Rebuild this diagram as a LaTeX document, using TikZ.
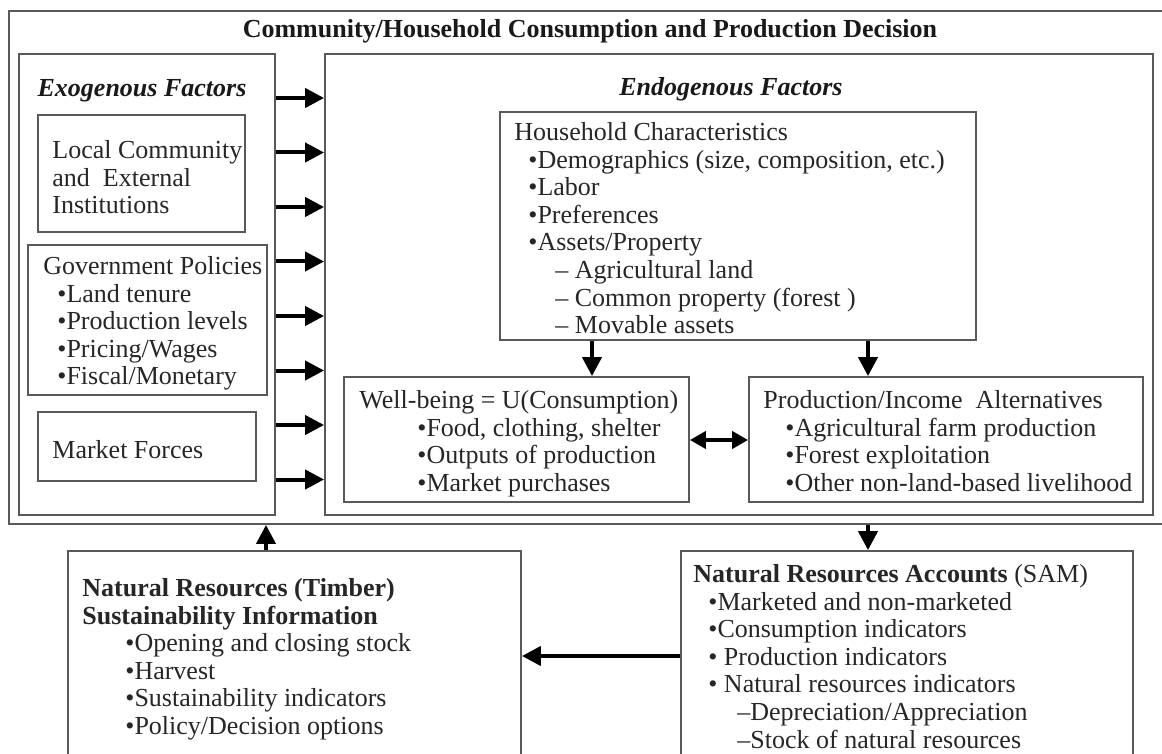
\documentclass[tikz,border=0pt]{standalone}
\usepackage{fontspec}
\setmainfont{Liberation Serif}
\usetikzlibrary{arrows.meta}

\begin{document}
\begin{tikzpicture}[x=0.5pt, y=-0.5pt,
   box/.style={draw=black!65, line width=0.9pt, inner sep=0pt},
   txt/.style={inner sep=0pt, anchor=north west, align=left, text=black!85,
               font=\fontsize{13}{13.8}\selectfont},
   head/.style={inner sep=0pt, text=black!90, font=\fontsize{13}{13.8}\selectfont\bfseries},
   arr/.style={-{Triangle[length=9.5pt, width=9.5pt]}, line width=2pt},
   ]

\useasboundingbox (0,0) rectangle (1162,754);

% frames
\node[box, minimum width=582pt, minimum height=256.5pt] (outer) at (591,267.5) {};
\node[box, minimum width=128pt, minimum height=230.5pt] (exo) at (147,284.5) {};
\node[box, minimum width=414pt, minimum height=230.5pt] (endo) at (739,284.5) {};

\node[head] (title) at (590,31) {Community/Household Consumption and Production Decision};
\node[head, font=\fontsize{13}{13.8}\selectfont\bfseries\itshape] (exohead) at (142,91) {Exogenous Factors};
\node[head, font=\fontsize{13}{13.8}\selectfont\bfseries\itshape] (endohead) at (731,89) {Endogenous Factors};

% exogenous side
\node[box, minimum width=103.5pt, minimum height=58.5pt] (local) at (141.5,173.5) {};
\node[txt] (local-t) at (52,140) {Local Community\\and \ External\\Institutions};

\node[box, minimum width=119.5pt, minimum height=75pt] (gov) at (147.5,320) {};
\node[txt] (gov-t) at (43,256) {Government Policies\\
   \hspace*{7pt}•Land tenure\\
   \hspace*{7pt}•Production levels\\
   \hspace*{7pt}•Pricing/Wages\\
   \hspace*{7pt}•Fiscal/Monetary};

\node[box, minimum width=109pt, minimum height=34.5pt] (market) at (147,446.5) {};
\node[txt, anchor=west] (market-t) at (52,450) {Market Forces};

% endogenous side
\node[box, minimum width=238pt, minimum height=114pt] (house) at (738,226) {};
\node[txt] (house-t) at (514,122) {Household Characteristics\\
   \hspace*{7pt}•Demographics (size, composition, etc.)\\
   \hspace*{7pt}•Labor\\
   \hspace*{7pt}•Preferences\\
   \hspace*{7pt}•Assets/Property\\
   \hspace*{20.5pt}– Agricultural land\\
   \hspace*{20.5pt}– Common property (forest )\\
   \hspace*{20.5pt}– Movable assets};

\node[box, minimum width=172.5pt, minimum height=62.5pt] (well) at (516.5,439.5) {};
\node[txt] (well-t) at (359,390) {Well-being = U(Consumption)\\
   \hspace*{29pt}•Food, clothing, shelter\\
   \hspace*{29pt}•Outputs of production\\
   \hspace*{29pt}•Market purchases};

\node[box, minimum width=197pt, minimum height=62.5pt] (prod) at (946,439.5) {};
\node[txt] (prod-t) at (763,390) {Production/Income \ Alternatives\\
   \hspace*{11pt}•Agricultural farm production\\
   \hspace*{11pt}•Forest exploitation\\
   \hspace*{11pt}•Other non-land-based livelihood};

% accounts below
\node[box, minimum width=226.5pt, minimum height=114.5pt] (timber) at (294.5,665.5) {};
\node[txt] (timber-t) at (82,578) {\textbf{Natural Resources (Timber)}\\
   \textbf{Sustainability Information}\\
   \hspace*{21.5pt}•Opening and closing stock\\
   \hspace*{21.5pt}•Harvest\\
   \hspace*{21.5pt}•Sustainability indicators\\
   \hspace*{21.5pt}•Policy/Decision options};

\node[box, minimum width=226pt, minimum height=114.5pt] (sam) at (907,665.5) {};
\node[txt] (sam-t) at (693,564) {\textbf{Natural Resources Accounts} (SAM)\\
   \hspace*{7.5pt}•Marketed and non-marketed\\
   \hspace*{7.5pt}•Consumption indicators\\
   \hspace*{7.5pt}• Production indicators\\
   \hspace*{7.5pt}• Natural resources indicators\\
   \hspace*{22pt}–Depreciation/Appreciation\\
   \hspace*{22pt}–Stock of natural resources};

% connectors
\foreach \y in {98,152.5,...,480}
   \draw[arr] (exo.east |- 0,\y) -- (endo.west |- 0,\y);

\draw[arr] (house.south -| 592,0) -- (well.north -| 592,0);
\draw[arr] (house.south -| 868,0) -- (prod.north -| 868,0);
\draw[arr, {Triangle[length=8pt, width=8.5pt]}-{Triangle[length=8pt, width=8.5pt]}]
   (well.east |- 0,440) -- (prod.west |- 0,440);

\draw[arr] (timber.north -| 266,0) -- (outer.south -| 266,0);
\draw[arr] (outer.south -| 868,0) -- (sam.north -| 868,0);
\draw[arr] (sam.west |- 0,656) -- (timber.east |- 0,656);

\end{tikzpicture}
\end{document}
